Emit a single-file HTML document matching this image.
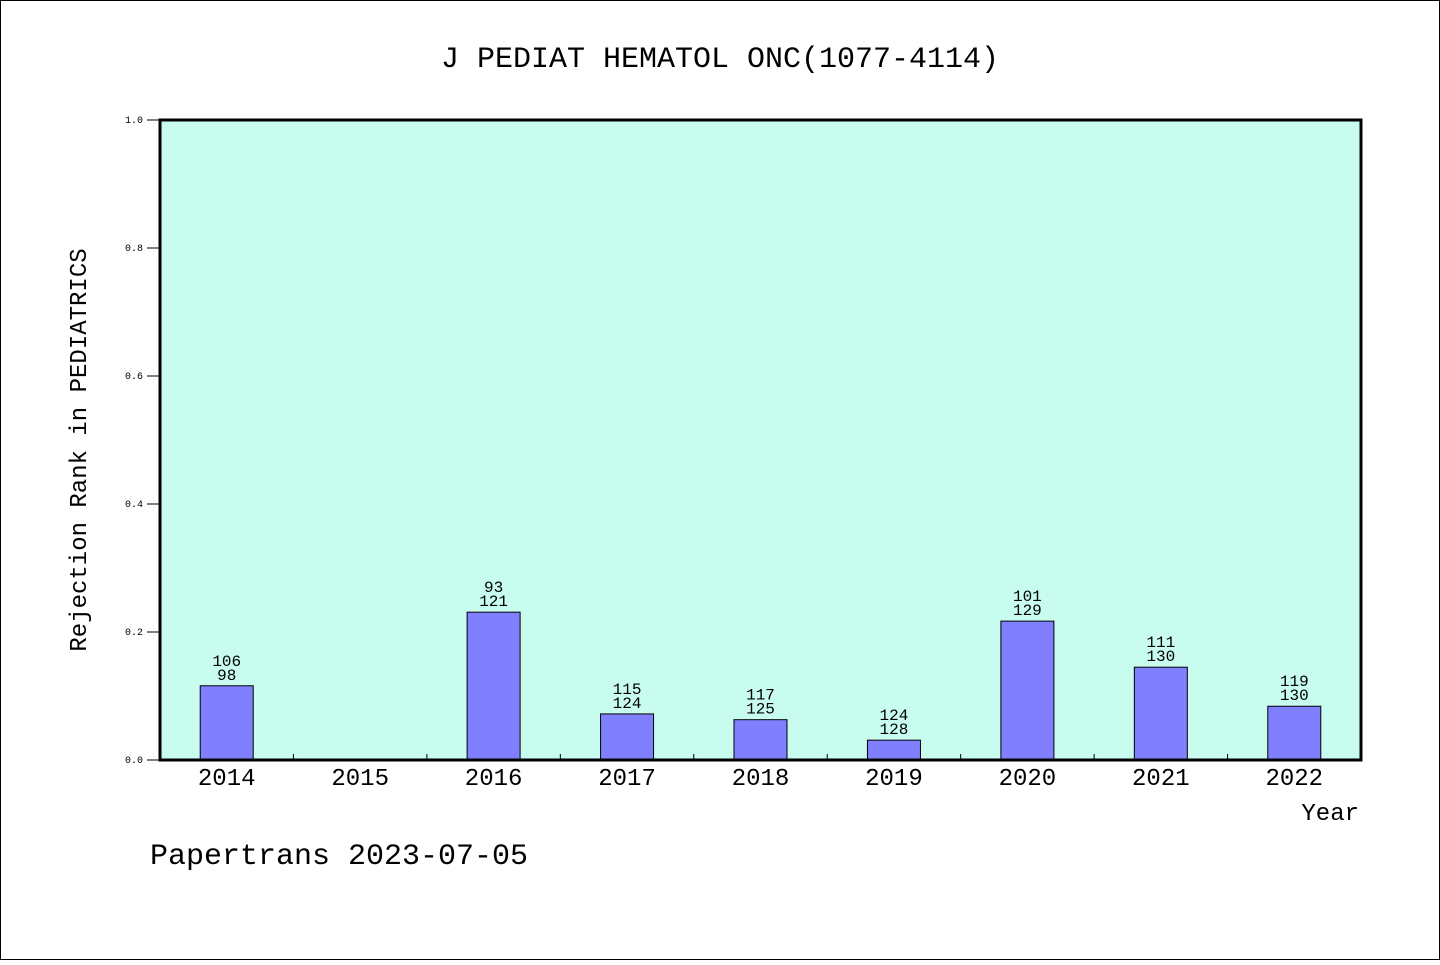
<!DOCTYPE html>
<html><head><meta charset="utf-8"><style>
body{margin:0;background:#fff}
svg text{font-family:"WenQuanYi Zen Hei","Liberation Mono",monospace;fill:#000}
</style></head><body>
<svg width="1440" height="960" xmlns="http://www.w3.org/2000/svg">
<rect x="0.5" y="0.5" width="1439" height="959" fill="#fff" stroke="#000"/>
<text x="720" y="67" font-size="30" text-anchor="middle">J PEDIAT HEMATOL ONC(1077-4114)</text>
<rect x="160" y="120" width="1201" height="640" fill="#c8fcee"/>
<g id="bars"></g>
<g id="axes"></g>
<rect x="160" y="120" width="1201" height="640" fill="none" stroke="#000" stroke-width="3"/>
<text x="86" y="450" font-size="24" text-anchor="middle" transform="rotate(-90 86 450)">Rejection Rank in PEDIATRICS</text>
<text x="1359" y="820" font-size="24" text-anchor="end">Year</text>
<text x="150" y="864" font-size="30">Papertrans 2023-07-05</text>
</svg>
<script>
const categories=["2014","2015","2016","2017","2018","2019","2020","2021","2022"];
const values=[0.116,0,0.231,0.072,0.063,0.031,0.217,0.145,0.084];
const labelTop=["106","","93","115","117","124","101","111","119"];
const labelBottom=["98","","121","124","125","128","129","130","130"];
const yTicks=[0,0.2,0.4,0.6,0.8,1.0];
const NS="http://www.w3.org/2000/svg";
const X0=160,X1=1361,Y0=760,Y1=120;
const slot=(X1-X0)/categories.length;
const xc=i=>X0+slot*(i+0.5);
const y=v=>Y0-(Y0-Y1)*v;
function mk(t,a,p){const e=document.createElementNS(NS,t);for(const k in a)e.setAttribute(k,a[k]);p.appendChild(e);return e;}
const bars=document.getElementById('bars'),axes=document.getElementById('axes');
categories.forEach((c,i)=>{
  if(values[i]>0){
    const r=mk('rect',{x:xc(i)-26.5,y:y(values[i]),width:53,height:Y0-y(values[i]),fill:'#8080ff',stroke:'#000','stroke-width':1},bars);
    
    
    const t1=mk('text',{x:xc(i),y:y(values[i])-20,'font-size':16,'text-anchor':'middle'},bars);t1.textContent=labelTop[i];
    
    
    const t2=mk('text',{x:xc(i),y:y(values[i])-6,'font-size':16,'text-anchor':'middle'},bars);t2.textContent=labelBottom[i];
    
    
  }
  const xl=mk('text',{x:xc(i),y:785,'font-size':24,'text-anchor':'middle'},axes);xl.textContent=c;
  
  
  if(i>0){const tk=mk('line',{x1:X0+slot*i,x2:X0+slot*i,y1:Y0,y2:Y0-6,stroke:'#000'},axes);
  
  }
});
yTicks.forEach(v=>{
  const l=mk('line',{x1:147,x2:160,y1:y(v),y2:y(v),stroke:'#000'},axes);
  
  
  const t=mk('text',{x:143,y:y(v)+3,'font-size':10,'text-anchor':'end'},axes);t.textContent=v.toFixed(1);
  
  
});
</script>
</body></html>
